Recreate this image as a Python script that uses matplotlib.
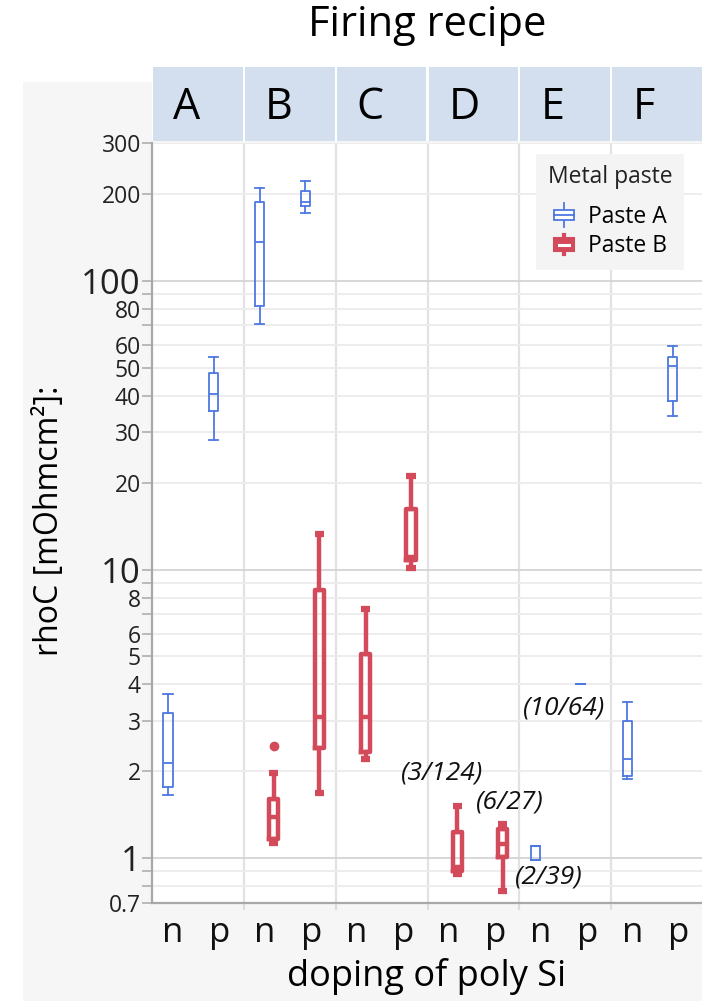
import matplotlib
matplotlib.use("Agg")
import matplotlib.pyplot as plt
from matplotlib.patches import Rectangle
from matplotlib.lines import Line2D
from matplotlib.legend_handler import HandlerBase
from matplotlib.ticker import NullFormatter

plt.rcParams['font.family'] = ['Open Sans', 'DejaVu Sans']

facets = ["A", "B", "C", "D", "E", "F"]
dopings = ["n", "p"]

# Paste A (blue, thin boxes)
a_facet = ["A", "A", "B", "B", "E", "E", "F", "F"]
a_doping = ["n", "p", "n", "p", "n", "p", "n", "p"]
a_low = [1.66, 28.2, 70.8, 172.0, 0.99, 4.0, 1.88, 34.1]
a_q1 = [1.77, 35.3, 81.9, 181.6, 0.99, 4.0, 1.93, 38.4]
a_med = [2.13, 40.5, 135.7, 188.0, 1.10, 4.0, 2.20, 50.8]
a_q3 = [3.19, 48.0, 187.6, 205.0, 1.10, 4.0, 3.00, 54.6]
a_high = [3.71, 54.6, 210.0, 221.0, 1.10, 4.0, 3.49, 59.6]
a_out = [[], [], [], [], [], [], [], []]

# Paste B (red, thick boxes)
b_facet = ["B", "B", "C", "C", "D", "D"]
b_doping = ["n", "p", "n", "p", "n", "p"]
b_low = [1.13, 1.68, 2.21, 10.14, 0.88, 0.77]
b_q1 = [1.17, 2.40, 2.33, 10.75, 0.90, 1.01]
b_med = [1.39, 3.08, 3.08, 11.09, 0.93, 1.12]
b_q3 = [1.61, 8.46, 5.11, 16.2, 1.23, 1.26]
b_high = [1.98, 13.3, 7.31, 21.0, 1.52, 1.31]
b_out = [[2.44], [], [], [], [], []]

# count labels
notes = ["(3/124)", "(6/27)", "(2/39)", "(10/64)"]
note_x = [3.155, 3.90, 4.32, 4.49]
note_y = [1.97, 1.57, 0.86, 3.32]

y_ticks = [0.7, 1, 2, 3, 4, 5, 6, 8, 10, 20, 30, 40, 50, 60, 80, 100, 200, 300]
y_tick_labels = ["0.7", "1", "2", "3", "4", "5", "6", "8", "10", "20", "30",
                 "40", "50", "60", "80", "100", "200", "300"]
y_minor = [0.8, 0.9, 7, 9, 70, 90]

blue = "#4d78e0"
red = "#d34b5b"
dop_off = {"n": 0.25, "p": 0.745}
tick_off = {"n": 0.23, "p": 0.74}


def stats(lo, q1, med, q3, hi, out):
    return [dict(whislo=a, q1=b, med=c, q3=d, whishi=e, fliers=f)
            for a, b, c, d, e, f in zip(lo, q1, med, q3, hi, out)]


def positions(fac, dop, shift):
    return [facets.index(f) + dop_off[d] + shift for f, d in zip(fac, dop)]


class BoxHandler(HandlerBase):
    def __init__(self, color, filled):
        super().__init__()
        self.color = color
        self.filled = filled

    def create_artists(self, legend, orig_handle, xdescent, ydescent,
                       width, height, fontsize, trans):
        cx = width / 2 - xdescent
        w = width * 0.9
        if self.filled:
            bh = height * 0.7
            y0 = height * 0.15 - ydescent
            wl = Line2D([cx, cx], [y0 - 2.5, y0 + bh + 2.5], color=self.color,
                        lw=3, transform=trans)
            box = Rectangle((cx - w / 2, y0), w, bh, facecolor=self.color,
                            edgecolor=self.color, lw=1.5, transform=trans)
            med = Line2D([cx - w * 0.25, cx + w * 0.25], [y0 + bh / 2] * 2,
                         color="white", lw=2.2, transform=trans)
        else:
            bh = height * 0.55
            y0 = height * 0.22 - ydescent
            wl = Line2D([cx, cx], [y0 - 5, y0 + bh + 5], color=self.color,
                        lw=1.3, transform=trans)
            box = Rectangle((cx - w / 2, y0), w, bh, facecolor="white",
                            edgecolor=self.color, lw=1.3, transform=trans)
            med = Line2D([cx - w / 2, cx + w / 2], [y0 + bh / 2] * 2,
                         color=self.color, lw=1.3, transform=trans)
        return [wl, box, med]


fig = plt.figure(figsize=(7.02, 10.01), dpi=100)
fig.patches.append(Rectangle((23 / 702, 0), 1, 1 - 82 / 1001,
                             transform=fig.transFigure, facecolor="#f6f6f6",
                             edgecolor="none", zorder=-10))

ax = fig.add_axes([152 / 702, 1 - 903 / 1001, 551 / 702, 760 / 1001])
hx = fig.add_axes([152 / 702, 1 - 141 / 1001, 551 / 702, 74 / 1001])

# header strip
hx.set_xlim(0, 6)
hx.set_ylim(0, 1)
for s in hx.spines.values():
    s.set_visible(False)
hx.set_xticks([])
hx.set_yticks([])
for i, f in enumerate(facets):
    hx.add_patch(Rectangle((i + 0.012, 0), 0.976, 1, facecolor="#d3deef",
                           edgecolor="none"))
    hx.text(i + 0.23, 0.3, f, ha="left", va="baseline", fontsize=31,
            color="black")

# boxes
ax.bxp(stats(a_low, a_q1, a_med, a_q3, a_high, a_out),
       positions=positions(a_facet, a_doping, -0.075),
       widths=0.1, capwidths=0.1, manage_ticks=False,
       boxprops=dict(color=blue, lw=1.3),
       whiskerprops=dict(color=blue, lw=1.3),
       capprops=dict(color=blue, lw=1.3),
       medianprops=dict(color=blue, lw=1.3),
       flierprops=dict(marker="o", markerfacecolor=blue,
                       markeredgecolor=blue, markersize=5))
ax.bxp(stats(b_low, b_q1, b_med, b_q3, b_high, b_out),
       positions=positions(b_facet, b_doping, 0.075),
       widths=0.1, capwidths=0.1, manage_ticks=False,
       boxprops=dict(color=red, lw=3.2),
       whiskerprops=dict(color=red, lw=3.2),
       capprops=dict(color=red, lw=4.5, solid_capstyle="butt"),
       medianprops=dict(color=red, lw=3.2),
       flierprops=dict(marker="o", markerfacecolor=red,
                       markeredgecolor=red, markersize=6))

for s, x, y in zip(notes, note_x, note_y):
    ax.text(x, y, s, ha="center", va="center", style="italic",
            fontsize=19, color="#111111")

# axes
ax.set_yscale("log")
ax.set_ylim(0.7, 300)
ax.set_xlim(0, 6)
ax.set_yticks(y_ticks, y_tick_labels)
ax.set_yticks(y_minor, minor=True)
ax.yaxis.set_minor_formatter(NullFormatter())
ax.tick_params(axis="y", which="both", length=7, width=1.2, color="#b0b0b0",
               labelsize=16.5, labelcolor="#222222", pad=1)
for lab in ax.get_yticklabels():
    if lab.get_text() in ("1", "10", "100"):
        lab.set_fontsize(25)

xt = [i + tick_off[d] for i in range(len(facets)) for d in dopings]
ax.set_xticks(xt, [d for _ in facets for d in dopings])
ax.set_xticks([1, 2, 3, 4, 5], minor=True)
ax.tick_params(axis="x", which="major", length=0, labelsize=25,
               labelcolor="#111111", pad=9)
ax.tick_params(axis="x", which="minor", length=5, width=1.6, color="#dddddd")

ax.grid(axis="y", which="both", color="#ececec", lw=1.3, zorder=0)
ax.grid(axis="x", which="minor", color="#e2e2e2", lw=1.6, zorder=0)
for t in ax.yaxis.get_major_ticks():
    if t.get_loc() in (1, 10, 100):
        t.gridline.set_color("#d4d4d4")
ax.set_axisbelow(True)

for k in ("top", "right"):
    ax.spines[k].set_visible(False)
for k in ("left", "bottom"):
    ax.spines[k].set_color("#a8a8a8")
    ax.spines[k].set_linewidth(1.6)

# legend
ha = Line2D([], [], color=blue)
hb = Line2D([], [], color=red)
leg = ax.legend([ha, hb], ["Paste A", "Paste B"], title="Metal paste",
                loc="upper left", bbox_to_anchor=(0.697, 0.9855),
                borderaxespad=0,
                fontsize=16.5, title_fontsize=16.5, frameon=True,
                facecolor="#f4f4f4", edgecolor="none", framealpha=1,
                fancybox=False, borderpad=0.5, alignment="center",
                handlelength=1.0, handleheight=0.8, handletextpad=0.55,
                labelspacing=0.25,
                handler_map={ha: BoxHandler(blue, False),
                             hb: BoxHandler(red, True)})
leg.get_title().set_color("#222222")
leg._legend_box.sep = 11

fig.text(427 / 702, 1 - 36 / 1001, "Firing recipe", ha="center",
         va="baseline", fontsize=30, color="black")
fig.text(427 / 702, 1 - 986 / 1001, "doping of poly Si", ha="center",
         va="baseline", fontsize=26, color="black")
fig.text(50 / 702, 1 - 521 / 1001, "rhoC [mOhmcm²]:", ha="center",
         va="center", rotation=90, fontsize=23, color="black")

fig.savefig("out.png", dpi=100)
